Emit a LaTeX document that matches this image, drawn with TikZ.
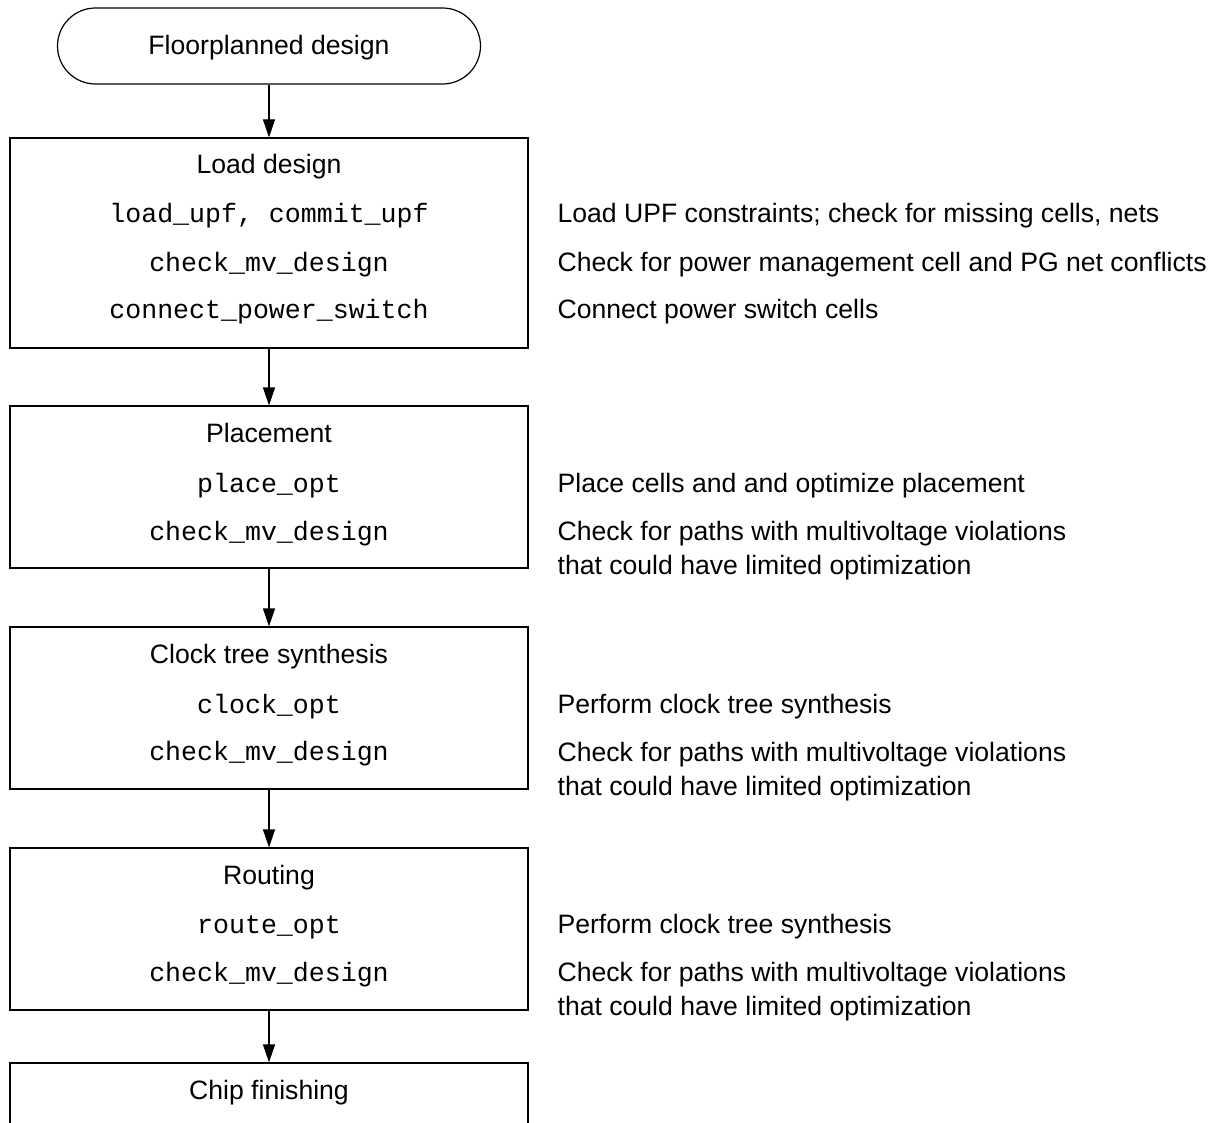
\documentclass[tikz,border=0pt]{standalone}
\usepackage{fontspec}
\setmainfont{Liberation Sans}
\setmonofont{Liberation Mono}
\usetikzlibrary{arrows.meta}

\begin{document}
\begin{tikzpicture}[x=0.5pt, y=-0.5pt, line width=0.6pt,
  every node/.style={font=\fontsize{13.3}{17}\selectfont, inner sep=0pt},
  >={Triangle[length=9pt, width=6pt]},
  stepbox/.style={draw, minimum width=259pt, minimum height=81pt},
  title/.style={anchor=base},
  cmd/.style={anchor=base, font=\fontsize{13.3}{17}\selectfont\ttfamily},
  note/.style={anchor=base west, align=left}]
	\useasboundingbox (0,0) rectangle (1221,1123);
	\clip (0,0) rectangle (1221,1123);
	% flow
	\node[draw, rounded corners=19pt, minimum width=211.5pt, minimum height=38pt, text height=11pt, text depth=2.7pt] (start) at (269,46) {Floorplanned design};
	\node[stepbox, minimum height=105pt] (load) at (269,243) {};
	\node[stepbox] (place) at (269,487) {};
	\node[stepbox] (cts) at (269,708) {};
	\node[stepbox] (route) at (269,929) {};
	\node[stepbox] (finish) at (269,1144) {};
	\draw[->] (start) -- (load);
	\draw[->] (load) -- (place);
	\draw[->] (place) -- (cts);
	\draw[->] (cts) -- (route);
	\draw[->] (route) -- (finish);
	% box texts
	\node[title] (loadtitle) at (269,174) {Load design};
	\node[cmd] (loadupf) at (269,223) {load\_upf, commit\_upf};
	\node[cmd] (loadmv) at (269,271) {check\_mv\_design};
	\node[cmd] (loadsw) at (269,319) {connect\_power\_switch};
	\node[title] (placetitle) at (269,442) {Placement};
	\node[cmd] (placeopt) at (269,492) {place\_opt};
	\node[cmd] (placemv) at (269,540) {check\_mv\_design};
	\node[title] (ctstitle) at (269,663) {Clock tree synthesis};
	\node[cmd] (clockopt) at (269,713) {clock\_opt};
	\node[cmd] (ctsmv) at (269,760) {check\_mv\_design};
	\node[title] (routetitle) at (269,884) {Routing};
	\node[cmd] (routeopt) at (269,933) {route\_opt};
	\node[cmd] (routemv) at (269,981) {check\_mv\_design};
	\node[title] (finishtitle) at (269,1099) {Chip finishing};
	% notes (two-line notes sit on their last baseline)
	\node[note] (n1) at (557,223) {Load UPF constraints; check for missing cells, nets};
	\node[note] (n2) at (557,271) {Check for power management cell and PG net conflicts};
	\node[note] (n3) at (557,319) {Connect power switch cells};
	\node[note] (n4) at (557,492) {Place cells and and optimize placement};
	\node[note] (n5) at (557,574) {Check for paths with multivoltage violations\\that could have limited optimization};
	\node[note] (n6) at (557,713) {Perform clock tree synthesis};
	\node[note] (n7) at (557,795) {Check for paths with multivoltage violations\\that could have limited optimization};
	\node[note] (n8) at (557,933) {Perform clock tree synthesis};
	\node[note] (n9) at (557,1015) {Check for paths with multivoltage violations\\that could have limited optimization};
\end{tikzpicture}
\end{document}
